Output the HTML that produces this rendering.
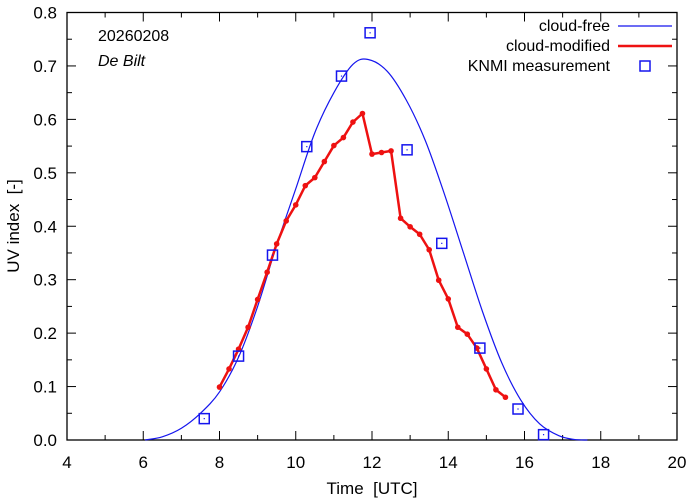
<!DOCTYPE html>
<html><head><meta charset="utf-8"><style>
body{margin:0;background:#fff}
svg{display:block;font-family:"Liberation Sans",sans-serif}
</style></head><body>
<svg id="chart" width="694" height="501" viewBox="0 0 694 501" xmlns="http://www.w3.org/2000/svg">
<rect width="694" height="501" fill="#fff"/>
<g id="axes"></g>
<g id="series"></g>
<text x="98" y="41" font-size="16">20260208</text>
<text x="98" y="66" font-size="16" font-style="italic">De Bilt</text>
<text x="372" y="494" font-size="17" text-anchor="middle" xml:space="preserve">Time  [UTC]</text>
<text x="0" y="0" font-size="17" text-anchor="middle" transform="translate(19,226) rotate(-90)" xml:space="preserve">UV index  [-]</text>
<g>
<text x="610" y="31" font-size="16" text-anchor="end">cloud-free</text>
<line x1="618" y1="26" x2="672" y2="26" stroke="#1515ee" stroke-width="1.2"/>
<text x="610" y="51" font-size="16" text-anchor="end">cloud-modified</text>
<line x1="618" y1="46" x2="672" y2="46" stroke="#ee1111" stroke-width="2.5"/>
<text x="610" y="71" font-size="16" text-anchor="end">KNMI measurement</text>
<rect x="640" y="61" width="10" height="10" fill="none" stroke="#1515ee" stroke-width="1.5"/>
</g>
</svg>
<script>
const xTicks=[4,6,8,10,12,14,16,18,20];
const yTicks=[0,0.1,0.2,0.3,0.4,0.5,0.6,0.7,0.8];
const yTickLabels=["0.0","0.1","0.2","0.3","0.4","0.5","0.6","0.7","0.8"];
const clearTimes=[6.05,6.5,7,7.5,8,8.5,9,9.5,10,10.5,11,11.5,11.9,12.4,12.9,13.4,13.9,14.4,14.9,15.4,15.9,16.4,16.9,17.3,17.65];
const clearValues=[0,0.006,0.022,0.05,0.09,0.155,0.25,0.365,0.47,0.575,0.65,0.703,0.712,0.69,0.636,0.56,0.46,0.35,0.24,0.145,0.075,0.03,0.008,0.001,0];
const modTimes=[8,8.25,8.5,8.75,9,9.25,9.5,9.75,10,10.25,10.5,10.75,11,11.25,11.5,11.75,12,12.25,12.5,12.75,13,13.25,13.5,13.75,14,14.25,14.5,14.75,15,15.25,15.5];
const modValues=[0.099,0.133,0.17,0.211,0.263,0.314,0.367,0.41,0.44,0.476,0.491,0.521,0.551,0.566,0.595,0.611,0.535,0.538,0.541,0.415,0.399,0.385,0.356,0.299,0.264,0.211,0.198,0.172,0.133,0.094,0.08];
const measTimes=[7.6,8.5,9.39,10.29,11.2,11.95,12.92,13.83,14.83,15.83,16.5];
const measValues=[0.04,0.157,0.346,0.549,0.681,0.762,0.543,0.368,0.172,0.058,0.01];
const L=67,R=677,T=12.5,B=440;
const xs=t=>L+(t-4)/16*(R-L);
const ys=v=>B-v/0.8*(B-T);
const NS="http://www.w3.org/2000/svg";
function mk(tag,attrs,parent){const e=document.createElementNS(NS,tag);for(const k in attrs)e.setAttribute(k,attrs[k]);parent.appendChild(e);return e;}
const ax=document.getElementById('axes'),se=document.getElementById('series');
for(let h=5;h<20;h+=2){const x=xs(h);
 let a=mk('line',{x1:x,y1:B,x2:x,y2:B-5,stroke:'#000'},ax);
 let b=mk('line',{x1:x,y1:T,x2:x,y2:T+5,stroke:'#000'},ax);}
xTicks.forEach(t=>{const x=xs(t);
 let a=mk('line',{x1:x,y1:B,x2:x,y2:B-9,stroke:'#000'},ax);
 let b=mk('line',{x1:x,y1:T,x2:x,y2:T+9,stroke:'#000'},ax);
 let l=mk('text',{x:x,y:468,'font-size':17,'text-anchor':'middle'},ax);l.textContent=t;});
for(let i=0;i<8;i++){const y=ys(i*0.1+0.05);
 let a=mk('line',{x1:L,y1:y,x2:L+5,y2:y,stroke:'#000'},ax);
 let b=mk('line',{x1:R,y1:y,x2:R-5,y2:y,stroke:'#000'},ax);}
yTicks.forEach((v,i)=>{const y=ys(v);
 let a=mk('line',{x1:L,y1:y,x2:L+9,y2:y,stroke:'#000'},ax);
 let b=mk('line',{x1:R,y1:y,x2:R-9,y2:y,stroke:'#000'},ax);
 let l=mk('text',{x:57,y:y+6,'font-size':17,'text-anchor':'end'},ax);l.textContent=yTickLabels[i];});
let fr=mk('rect',{x:L,y:T,width:R-L,height:B-T,fill:'none',stroke:'#000','stroke-width':1.3},ax);

const cp=clearTimes.map((t,i)=>[xs(t),ys(clearValues[i])]);
let d='M'+cp[0][0]+','+cp[0][1];
for(let i=0;i<cp.length-1;i++){
 const p0=cp[Math.max(0,i-1)],p1=cp[i],p2=cp[i+1],p3=cp[Math.min(cp.length-1,i+2)];
 const c1=[p1[0]+(p2[0]-p0[0])/6,p1[1]+(p2[1]-p0[1])/6];
 const c2=[p2[0]-(p3[0]-p1[0])/6,p2[1]-(p3[1]-p1[1])/6];
 d+=' C'+c1[0]+','+c1[1]+' '+c2[0]+','+c2[1]+' '+p2[0]+','+p2[1];
}
let cf=mk('path',{d:d,fill:'none',stroke:'#1515ee','stroke-width':1.2},se);

let cm=mk('polyline',{points:modTimes.map((t,i)=>xs(t)+','+ys(modValues[i])).join(' '),fill:'none',stroke:'#ee1111','stroke-width':2.5,'stroke-linejoin':'round'},se);

modTimes.forEach((t,i)=>{let c=mk('circle',{cx:xs(t),cy:ys(modValues[i]),r:2.8,fill:'#ee1111'},se);
 });
measTimes.forEach((t,i)=>{const x=xs(t),y=ys(measValues[i]);
 let r=mk('rect',{x:x-5,y:y-5,width:10,height:10,fill:'none',stroke:'#1515ee','stroke-width':1.5},se);
 
 let dd=mk('rect',{x:x-0.6,y:y-0.6,width:1.2,height:1.2,fill:'#1515ee'},se);
 });
</script>
</body></html>
